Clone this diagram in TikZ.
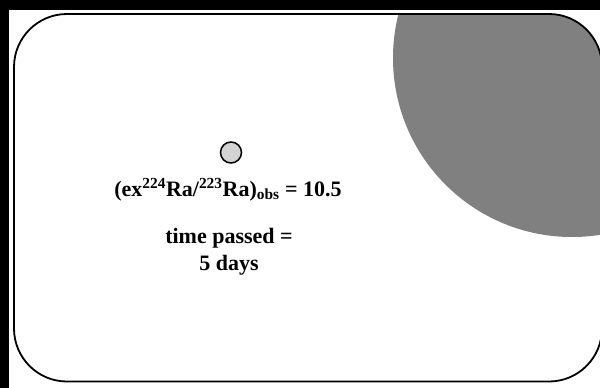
\documentclass[tikz,border=0pt]{standalone}
\usepackage{fontspec}
\setmainfont{Liberation Serif}
\usepackage{tikz}
\usetikzlibrary{positioning}
\definecolor{bigdisc}{HTML}{808080}
\definecolor{smalldisc}{HTML}{D3D3D3}

\begin{document}
\begin{tikzpicture}[x=1pt, y=-1pt,
  lbl/.style={font=\fontsize{22}{26}\selectfont\bfseries, inner sep=0pt}]
\useasboundingbox (0,0) rectangle (600,388);
% black margin and white sheet
\fill[black] (0,0) rectangle (600,388);
\fill[white] (9,10) rectangle (600,388);
% large grey disc, cut off by the panel
\begin{scope}
\clip[rounded corners=53pt] (14,14) rectangle (602,381.5);
\fill[bigdisc] (572,58) circle (179pt);
\end{scope}
% panel outline
\draw[line width=1.8pt, rounded corners=53pt] (14,14) rectangle (602,381.5);
% small disc
\node[circle, draw, fill=smalldisc, line width=1.5pt, minimum size=21pt, inner sep=0pt] (ion) at (231,152.5) {};
% labels
\node[lbl, anchor=base] (ratio) at (228,196) {(ex\textsuperscript{224}Ra/\textsuperscript{223}Ra)\textsubscript{obs} = 10.5};
\node[lbl, anchor=base] (tpass) at (229,243) {time passed =};
\node[lbl, anchor=base] (tdays) at (229,270) {5 days};
\end{tikzpicture}
\end{document}
